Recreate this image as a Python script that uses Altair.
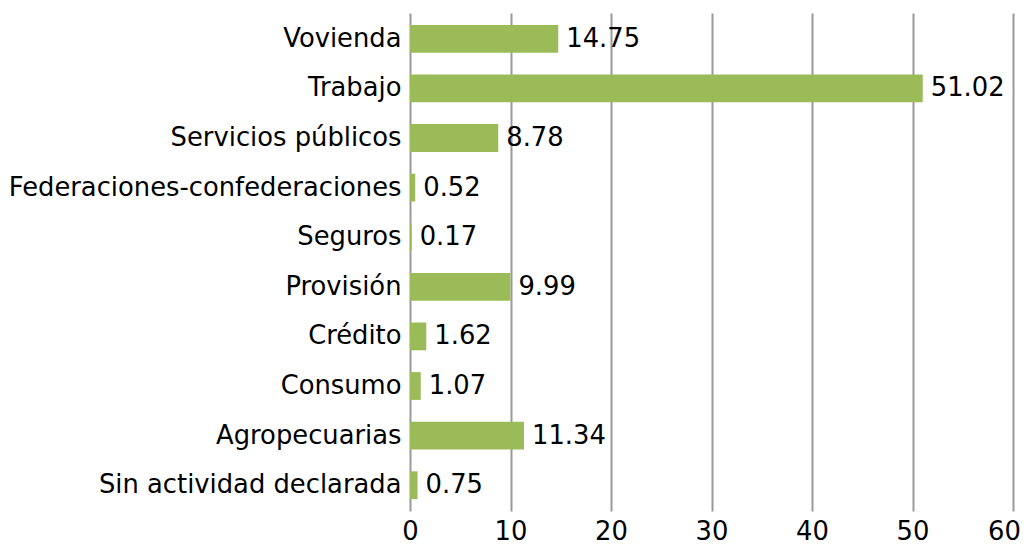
import altair as alt
import pandas as pd

categories = ["Vovienda", "Trabajo", "Servicios públicos", "Federaciones-confederaciones",
              "Seguros", "Provisión", "Crédito", "Consumo", "Agropecuarias", "Sin actividad declarada"]
values = [14.75, 51.02, 8.78, 0.52, 0.17, 9.99, 1.62, 1.07, 11.34, 0.75]
labels = ["14.75", "51.02", "8.78", "0.52", "0.17", "9.99", "1.62", "1.07", "11.34", "0.75"]
x_ticks = [0, 10, 20, 30, 40, 50, 60]

df = pd.DataFrame({"cat": categories, "val": values, "lab": labels})

FONT = "DejaVu Sans"
FS = 25.8

y = alt.Y("cat:N", sort=categories, title=None,
          scale=alt.Scale(paddingInner=0.44, paddingOuter=0.24),
          axis=alt.Axis(domain=False, ticks=False, labelFont=FONT, labelFontSize=FS,
                        labelColor="#000000", labelPadding=9, labelLimit=500))
x = alt.X("val:Q", title=None,
          scale=alt.Scale(domain=[0, 60], nice=False),
          axis=alt.Axis(values=x_ticks, domain=False, ticks=False,
                        grid=True, gridColor="#999999", gridWidth=2,
                        labelFont=FONT, labelFontSize=FS, labelColor="#000000",
                        labelPadding=8, labelFlush=False,
                        labelOffset={"condition": {"test": "datum.value === 60", "value": -9},
                                     "value": 0}))

bars = alt.Chart(df).mark_bar(color="#9BBB59").encode(x=x, y=y)
text = alt.Chart(df).mark_text(align="left", baseline="middle", dx=8, font=FONT,
                               fontSize=FS, color="#000000").encode(
    x="val:Q", y=alt.Y("cat:N", sort=categories), text="lab:N")

chart = (bars + text).properties(
    width=603, height=498,
    autosize=alt.AutoSizeParams(type="none"),
    padding={"left": 402, "top": 5, "right": 9, "bottom": 36},
).configure_view(stroke=None)

chart.save("out.html", embed_options={"renderer": "svg", "actions": False})
